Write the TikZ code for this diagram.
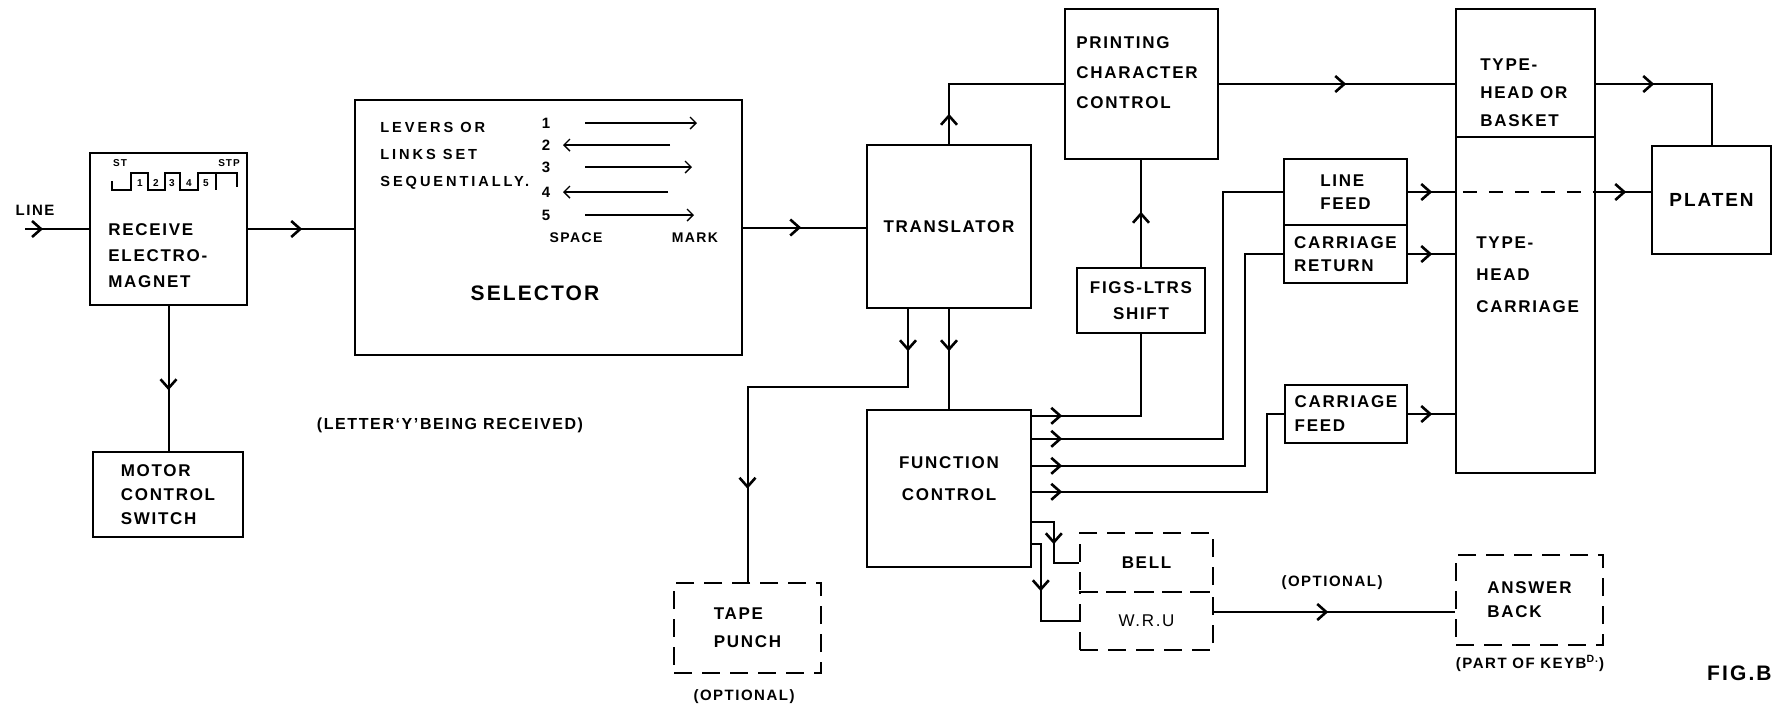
\documentclass[tikz,border=0pt]{standalone}
\usepackage{fontspec}
\newfontfamily\hand[LetterSpace=10]{Liberation Sans}
\newfontfamily\handwide[LetterSpace=20]{Liberation Sans}
\usetikzlibrary{arrows.meta, decorations.markings, calc, positioning}

\begin{document}
\begin{tikzpicture}[
    x=0.5pt, y=-0.5pt,
    >={Straight Barb[length=4.5pt, width=8pt, line width=1.3pt]},
    box/.style={draw, line width=1.2pt, inner sep=0pt, align=left, font=\hand\bfseries\fontsize{8.5}{12}\selectfont},
    optbox/.style={box, dash pattern=on 9pt off 5pt},
    sz/.style 2 args={minimum width=#1*0.5pt, minimum height=#2*0.5pt},
    lbl/.style={inner sep=0pt, align=left, font=\hand\bfseries\fontsize{8.5}{13}\selectfont},
    note/.style={inner sep=0pt, font=\hand\bfseries\fontsize{7.5}{9}\selectfont},
    tinytxt/.style={inner sep=0pt, font=\hand\bfseries\fontsize{5}{6}\selectfont},
    wire/.style={line width=1pt},
    thinwire/.style={line width=0.8pt},
    lever/.style={line width=0.7pt, -{Straight Barb[length=3pt, width=6pt]}},
    arrowat/.style={postaction={decorate}, decoration={markings, mark=at position #1 with {\arrow{>}}}},
    twotips/.style 2 args={postaction={decorate}, decoration={markings,
        mark=at position #1 with {\arrow{>}}, mark=at position #2 with {\arrow{>}}}},
  ]
  \clip (0,0) rectangle (1777,709);

  % receiving side
  \node[box, sz={157}{152}] (rec) at (168.5,229) {};
  \node[lbl, anchor=west] (rec-t) at (108,256) {RECEIVE\\ELECTRO-\\MAGNET};
  \node[box, sz={150}{85}] (motor) at (168,494.5) {MOTOR\\CONTROL\\SWITCH};
  \node[note] (line-t) at (35,210) {LINE};
  \coordinate (line-in) at (25,229);

  % signal for letter Y inside the magnet box
  \draw[line width=0.8pt] (112,181) -- (112,190) -- (131,190) -- (131,173) -- (148,173)
    -- (148,190) -- (165,190) -- (165,173) -- (180,173) -- (180,190) -- (198,190)
    -- (198,173) -- (237,173) -- (237,187);
  \draw[line width=0.8pt] (216,173) -- (216,190);
  \foreach \d/\xx in {1/140,2/156,3/172,4/189,5/206}
    \node[tinytxt] (bit\d) at (\xx,183) {\d};
  \node[tinytxt] (st-t) at (120,163) {ST};
  \node[tinytxt] (stp-t) at (229,163) {STP};

  % selector
  \node[box, sz={387}{255}] (sel) at (548.5,227.5) {};
  \node[lbl, anchor=west, font=\handwide\bfseries\fontsize{7.3}{13.5}\selectfont] (sel-t) at (380,156)
    {LEVERS OR\\LINKS SET\\SEQUENTIALLY.};
  \foreach \n/\yy/\xa/\xb in {1/123/585/697,2/145/670/563,3/167/585/692,4/192/668/563,5/215/585/694} {
    \node[note] (lev\n) at (546,\yy) {\n};
    \draw[lever] (\xa,\yy) -- (\xb,\yy);
  }
  \node[note, font=\hand\bfseries\fontsize{7}{9}\selectfont] (space-t) at (576,238) {SPACE};
  \node[note, font=\hand\bfseries\fontsize{7}{9}\selectfont] (mark-t) at (695,238) {MARK};
  \node[inner sep=0pt, font=\hand\bfseries\fontsize{10.5}{12}\selectfont] (sel-name) at (535,293) {SELECTOR};
  \node[note, font=\hand\bfseries\fontsize{8}{9}\selectfont] (letter-t) at (450,425) {(LETTER‘Y’BEING RECEIVED)};

  % translator and controls
  \node[box, sz={164}{163}] (tr) at (949,226.5) {TRANSLATOR};
  \node[box, sz={153}{150}] (pcc) at (1141.5,84) {};
  \node[lbl, anchor=west, font=\hand\bfseries\fontsize{8.5}{15}\selectfont] (pcc-t) at (1076,73)
    {PRINTING\\CHARACTER\\CONTROL};
  \node[box, sz={128}{65}, align=center, font=\hand\bfseries\fontsize{8.5}{13}\selectfont] (figs) at (1141,300.5)
    {FIGS-LTRS\\SHIFT};
  \node[box, sz={164}{157}] (fc) at (949,488.5) {};
  \node[lbl, align=center, font=\hand\bfseries\fontsize{8.5}{16}\selectfont] (fc-t) at (949,479)
    {FUNCTION\\CONTROL};
  \node[optbox, sz={147}{90}, font=\hand\bfseries\fontsize{8.5}{14}\selectfont] (tape) at (747.5,628) {TAPE\\PUNCH};
  \node[note] (opt1-t) at (744,697) {(OPTIONAL)};

  % printing mechanism
  \node[box, sz={123}{66}, font=\hand\bfseries\fontsize{8.5}{11.5}\selectfont] (lf) at (1345.5,192) {LINE\\FEED};
  \node[box, sz={123}{58}, font=\hand\bfseries\fontsize{8.5}{11.5}\selectfont] (cr) at (1345.5,254) {CARRIAGE\\RETURN};
  \node[box, sz={122}{58}] (cf) at (1346,414) {CARRIAGE\\FEED};
  \node[box, sz={139}{128}] (bask) at (1525.5,73) {};
  \node[lbl, anchor=west, font=\hand\bfseries\fontsize{8.5}{14}\selectfont] (bask-t) at (1480,93)
    {TYPE-\\HEAD OR\\BASKET};
  \node[box, sz={139}{336}] (carr) at (1525.5,305) {};
  \node[lbl, anchor=west, font=\hand\bfseries\fontsize{8.5}{16}\selectfont] (carr-t) at (1476,275)
    {TYPE-\\HEAD\\CARRIAGE};
  \node[box, sz={119}{108}, font=\hand\bfseries\fontsize{9.5}{12}\selectfont] (platen) at (1711.5,200) {PLATEN};

  % optional units
  \node[optbox, sz={133}{59}] (bell) at (1146.5,562.5) {BELL};
  \node[optbox, sz={133}{58}, font=\hand\fontsize{8.5}{12}\selectfont] (wru) at (1146.5,621) {W.R.U};
  \node[optbox, sz={147}{90}] (ans) at (1529.5,600) {ANSWER\\BACK};
  \node[note] (opt2-t) at (1332,583) {(OPTIONAL)};
  \node[note] (keyb-t) at (1530,663) {(PART OF KEYB\textsuperscript{D.})};
  \node[inner sep=0pt, anchor=east, font=\hand\bfseries\fontsize{10.5}{12}\selectfont] (fig-t) at (1772,673) {FIG.B};

  % connectors
  \draw[wire, arrowat=9pt] (line-in) -- (rec.west);
  \draw[wire, arrowat=27pt] (rec.east) -- (rec.east -| sel.west);
  \draw[wire, arrowat=42pt] (rec.south) -- (rec.south |- motor.north);
  \draw[wire, arrowat=29pt] (sel.east) -- (sel.east -| tr.west);
  \draw[wire, arrowat=15pt] (tr.north) |- (pcc.west);
  \draw[wire, arrowat=63.5pt] (pcc.east) -- (pcc.east -| bask.west);
  \draw[wire, arrowat=29pt] (bask.east |- pcc.east) -| (platen.north);
  \draw[wire, arrowat=12pt] (lf.east) -- (lf.east -| carr.west);
  \draw[wire, dash pattern=on 7pt off 6pt] ([xshift=4pt]lf.east -| carr.west) -- (lf.east -| carr.east);
  \draw[wire, arrowat=15pt] (lf.east -| carr.east) -- (lf.east -| platen.west);
  \draw[wire, arrowat=12pt] (cr.east) -- (cr.east -| carr.west);
  \draw[wire, arrowat=12pt] (cf.east) -- (cf.east -| carr.west);
  \draw[thinwire, arrowat=27.5pt] (figs.north) -- (figs.north |- pcc.south);
  \foreach \k/\d in {1/7,2/30,3/57,4/83,5/113,6/135}
    \coordinate (fo\k) at ($(fc.north east)+(0,\d)$);
  \draw[wire, arrowat=15pt] (fo1) -| (figs.south);
  \draw[wire, arrowat=15pt] (fo2) -| ([xshift=-30pt]lf.west) -- (lf.west);
  \draw[wire, arrowat=15pt] (fo3) -| ([xshift=-19pt]cr.west) -- (cr.west);
  \draw[wire, arrowat=15pt] (fo4) -| ([xshift=-8.5pt]cf.west) -- (cf.west);
  \draw[wire, arrowat=22pt] (fo5) -| ([xshift=-12.5pt]bell.west) -- (bell.west);
  \draw[wire, arrowat=28pt] (fo6) -| ([xshift=-19pt]wru.west) -- (wru.west);
  \draw[wire, arrowat=21pt] (tr.south) -- (fc.north);
  \coordinate (tr-l) at ([xshift=-20.5pt]tr.south);
  \draw[wire, twotips={21pt}{170pt}] (tr-l) -- ++(0,78) -| (tape.north);
  \coordinate (wru-o) at ([yshift=4.5pt]wru.east);
  \draw[wire, arrowat=57pt] (wru-o) -- (wru-o -| ans.west);
\end{tikzpicture}
\end{document}
